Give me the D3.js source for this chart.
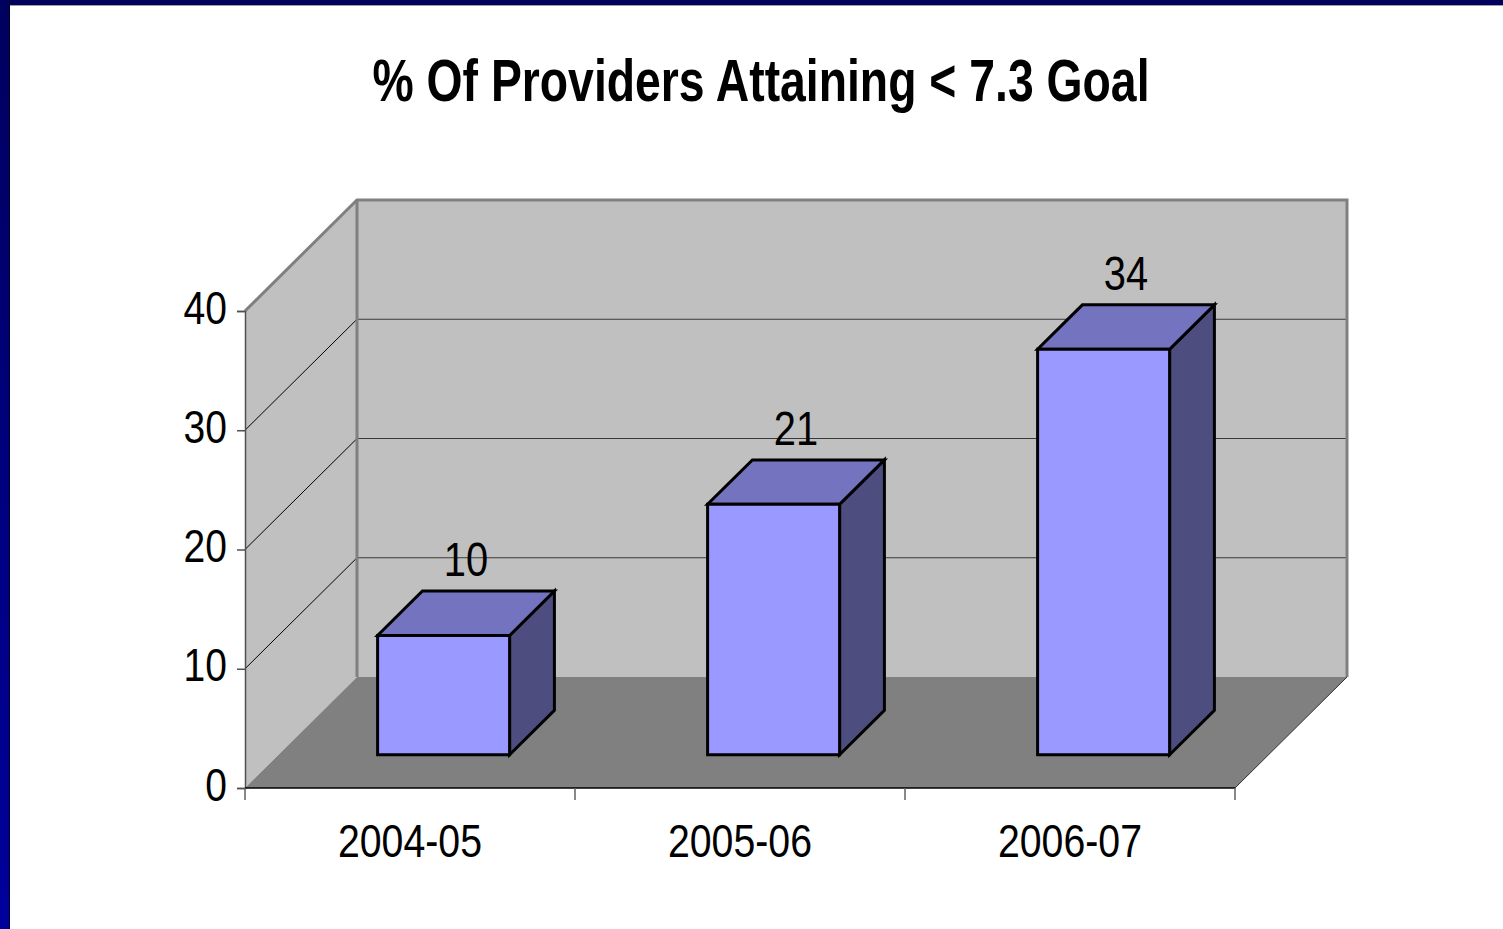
<!DOCTYPE html>
<html>
<head>
<meta charset="utf-8">
<script src="https://cdn.jsdelivr.net/npm/d3@7"></script>
<style>
  html, body { margin: 0; padding: 0; background: #fff; }
  svg { display: block; }
  .narrow { font-family: "Liberation Sans Narrow", "Arial Narrow", "Liberation Sans", Arial, sans-serif; }
</style>
</head>
<body>
<svg id="chart" width="1503" height="929"></svg>
<script>
// Data
const categories = ["2004-05", "2005-06", "2006-07"];
const values = [10, 21, 34];
const yTicks = [0, 10, 20, 30, 40];
const title = "% Of Providers Attaining < 7.3 Goal";

const W = 1503, H = 929;
const svg = d3.select("#chart");

// Squeeze text horizontally to a narrow face
function condense(sel, factor) {
  sel.each(function () {
    const len = this.getComputedTextLength();
    d3.select(this).attr("textLength", len * factor).attr("lengthAdjust", "spacingAndGlyphs");
  });
}

// Frame: navy band along top and left edges
const defs = svg.append("defs");
const grad = defs.append("linearGradient").attr("id", "navy").attr("x1", 0).attr("y1", 0).attr("x2", 0).attr("y2", 1);
grad.append("stop").attr("offset", "0%").attr("stop-color", "#00005e");
grad.append("stop").attr("offset", "100%").attr("stop-color", "#00009c");
svg.append("rect").attr("x", 0).attr("y", 0).attr("width", W).attr("height", H).attr("fill", "#fff");
svg.append("rect").attr("x", 0).attr("y", 0).attr("width", W).attr("height", 5).attr("fill", "#00005e");
svg.append("line").attr("x1", 10).attr("x2", W).attr("y1", 5.5).attr("y2", 5.5).attr("stroke", "#a0a0a0").attr("stroke-width", 1);
svg.append("rect").attr("x", 0).attr("y", 0).attr("width", 9).attr("height", H).attr("fill", "url(#navy)");
svg.append("line").attr("x1", 9.5).attr("x2", 9.5).attr("y1", 0).attr("y2", H).attr("stroke", "#000020").attr("stroke-width", 1);

// Scales: front plane of the 3D box
const x0 = 245, x1 = 1235;
const y = d3.scaleLinear().domain([0, 40]).range([788, 311]);
const xAxisBand = d3.scaleBand().domain(categories).range([x0, x1]).padding(0);
const xBar = d3.scaleBand().domain(categories).range([x0, x1]).paddingInner(0.6).paddingOuter(0.3);
const DX = 112, DY = 111;           // depth vector of the box
const barZ0 = 0.3, barZ1 = 0.7;     // bar depth span as fraction of box depth

const pt = (px, v, f) => [px + f * DX, y(v) - f * DY];
const poly = pts => pts.map(p => p.join(",")).join(" ");

const g = svg.append("g");

// Walls and floor
g.append("polygon")
  .attr("points", poly([pt(x0, 0, 0), pt(x0, 40, 0), pt(x0, 40, 1), pt(x0, 0, 1)]))
  .attr("fill", "#c0c0c0");
g.append("polygon")
  .attr("points", poly([pt(x0, 0, 1), pt(x1, 0, 1), pt(x1, 40, 1), pt(x0, 40, 1)]))
  .attr("fill", "#c0c0c0");
g.append("polygon")
  .attr("points", poly([pt(x0, 0, 0), pt(x1, 0, 0), pt(x1, 0, 1), pt(x0, 0, 1)]))
  .attr("fill", "#808080");

// Gridlines on left and back walls
const gridVals = yTicks.filter(v => v > 0 && v < 40);
g.selectAll("line.gl-left").data(gridVals).join("line")
  .attr("class", "gl-left")
  .attr("x1", v => pt(x0, v, 0)[0]).attr("y1", v => pt(x0, v, 0)[1])
  .attr("x2", v => pt(x0, v, 1)[0]).attr("y2", v => pt(x0, v, 1)[1])
  .attr("stroke", "#000").attr("stroke-width", 1);
g.selectAll("line.gl-back").data(gridVals).join("line")
  .attr("class", "gl-back")
  .attr("x1", v => pt(x0, v, 1)[0]).attr("y1", v => pt(x0, v, 1)[1])
  .attr("x2", v => pt(x1, v, 1)[0]).attr("y2", v => pt(x1, v, 1)[1])
  .attr("stroke", "#3a3a3a").attr("stroke-width", 1);

// Wall outlines
const edge = "#808080";
g.append("polyline")
  .attr("points", poly([pt(x0, 40, 0), pt(x0, 40, 1), pt(x1, 40, 1), pt(x1, 0, 1)]))
  .attr("fill", "none").attr("stroke", edge).attr("stroke-width", 3).attr("stroke-linejoin", "miter");
g.append("line")
  .attr("x1", pt(x0, 0, 1)[0]).attr("y1", pt(x0, 0, 1)[1])
  .attr("x2", pt(x0, 40, 1)[0]).attr("y2", pt(x0, 40, 1)[1])
  .attr("stroke", edge).attr("stroke-width", 3);
g.append("line")
  .attr("x1", pt(x1, 0, 1)[0]).attr("y1", pt(x1, 0, 1)[1])
  .attr("x2", pt(x1, 0, 0)[0]).attr("y2", pt(x1, 0, 0)[1])
  .attr("stroke", "#303030").attr("stroke-width", 1);

// Y axis
const yAxis = d3.axisLeft(y).tickValues(yTicks).tickSize(8).tickPadding(10).tickFormat(d3.format("d"));
const ya = g.append("g").attr("transform", `translate(${x0},0)`).call(yAxis);
ya.select(".domain").attr("stroke", "#505050").attr("stroke-width", 1.5);
ya.selectAll(".tick line").attr("stroke", "#505050").attr("stroke-width", 1.5);
ya.selectAll(".tick text")
  .attr("class", "narrow").attr("font-size", 47).attr("fill", "#000").attr("dy", "0.26em")
  .call(condense, 0.83);

// X axis: front floor edge with ticks at category boundaries
g.append("line").attr("x1", x0).attr("x2", x1).attr("y1", y(0)).attr("y2", y(0))
  .attr("stroke", "#000").attr("stroke-width", 1.5);
const bounds = categories.map(c => xAxisBand(c)).concat([x1]);
g.selectAll("line.xt").data(bounds).join("line")
  .attr("class", "xt")
  .attr("x1", d => d).attr("x2", d => d).attr("y1", y(0)).attr("y2", y(0) + 12)
  .attr("stroke", "#606060").attr("stroke-width", 1.5);
g.selectAll("text.xl").data(categories).join("text")
  .attr("class", "xl narrow")
  .attr("x", c => xAxisBand(c) + xAxisBand.bandwidth() / 2)
  .attr("y", 857)
  .attr("text-anchor", "middle").attr("font-size", 47).attr("fill", "#000")
  .text(c => c)
  .call(condense, 0.835);

// Bars: front, top and side faces
const bars = g.selectAll("g.bar").data(categories.map((c, i) => ({ c, v: values[i] }))).join("g").attr("class", "bar");
function face(sel, fill, fn) {
  sel.append("polygon").attr("points", d => poly(fn(d))).attr("fill", fill)
    .attr("stroke", "#000").attr("stroke-width", 3).attr("stroke-linejoin", "miter");
}
face(bars, "#4d4d80", d => {
  const r = xBar(d.c) + xBar.bandwidth();
  return [pt(r, 0, barZ0), pt(r, 0, barZ1), pt(r, d.v, barZ1), pt(r, d.v, barZ0)];
});
face(bars, "#7373bf", d => {
  const l = xBar(d.c), r = l + xBar.bandwidth();
  return [pt(l, d.v, barZ0), pt(r, d.v, barZ0), pt(r, d.v, barZ1), pt(l, d.v, barZ1)];
});
face(bars, "#9999ff", d => {
  const l = xBar(d.c), r = l + xBar.bandwidth();
  return [pt(l, 0, barZ0), pt(r, 0, barZ0), pt(r, d.v, barZ0), pt(l, d.v, barZ0)];
});

// Value labels
bars.append("text")
  .attr("class", "narrow")
  .attr("x", d => pt(xBar(d.c) + xBar.bandwidth() / 2, d.v, 0.5)[0])
  .attr("y", d => pt(0, d.v, 0.5)[1] - 37)
  .attr("text-anchor", "middle").attr("font-size", 48).attr("fill", "#000")
  .text(d => d.v)
  .call(condense, 0.83);

// Title
svg.append("text")
  .attr("class", "narrow")
  .attr("x", 761).attr("y", 101)
  .attr("text-anchor", "middle")
  .attr("font-size", 59).attr("font-weight", "bold").attr("fill", "#000")
  .text(title)
  .attr("textLength", 777).attr("lengthAdjust", "spacingAndGlyphs");
</script>
</body>
</html>
